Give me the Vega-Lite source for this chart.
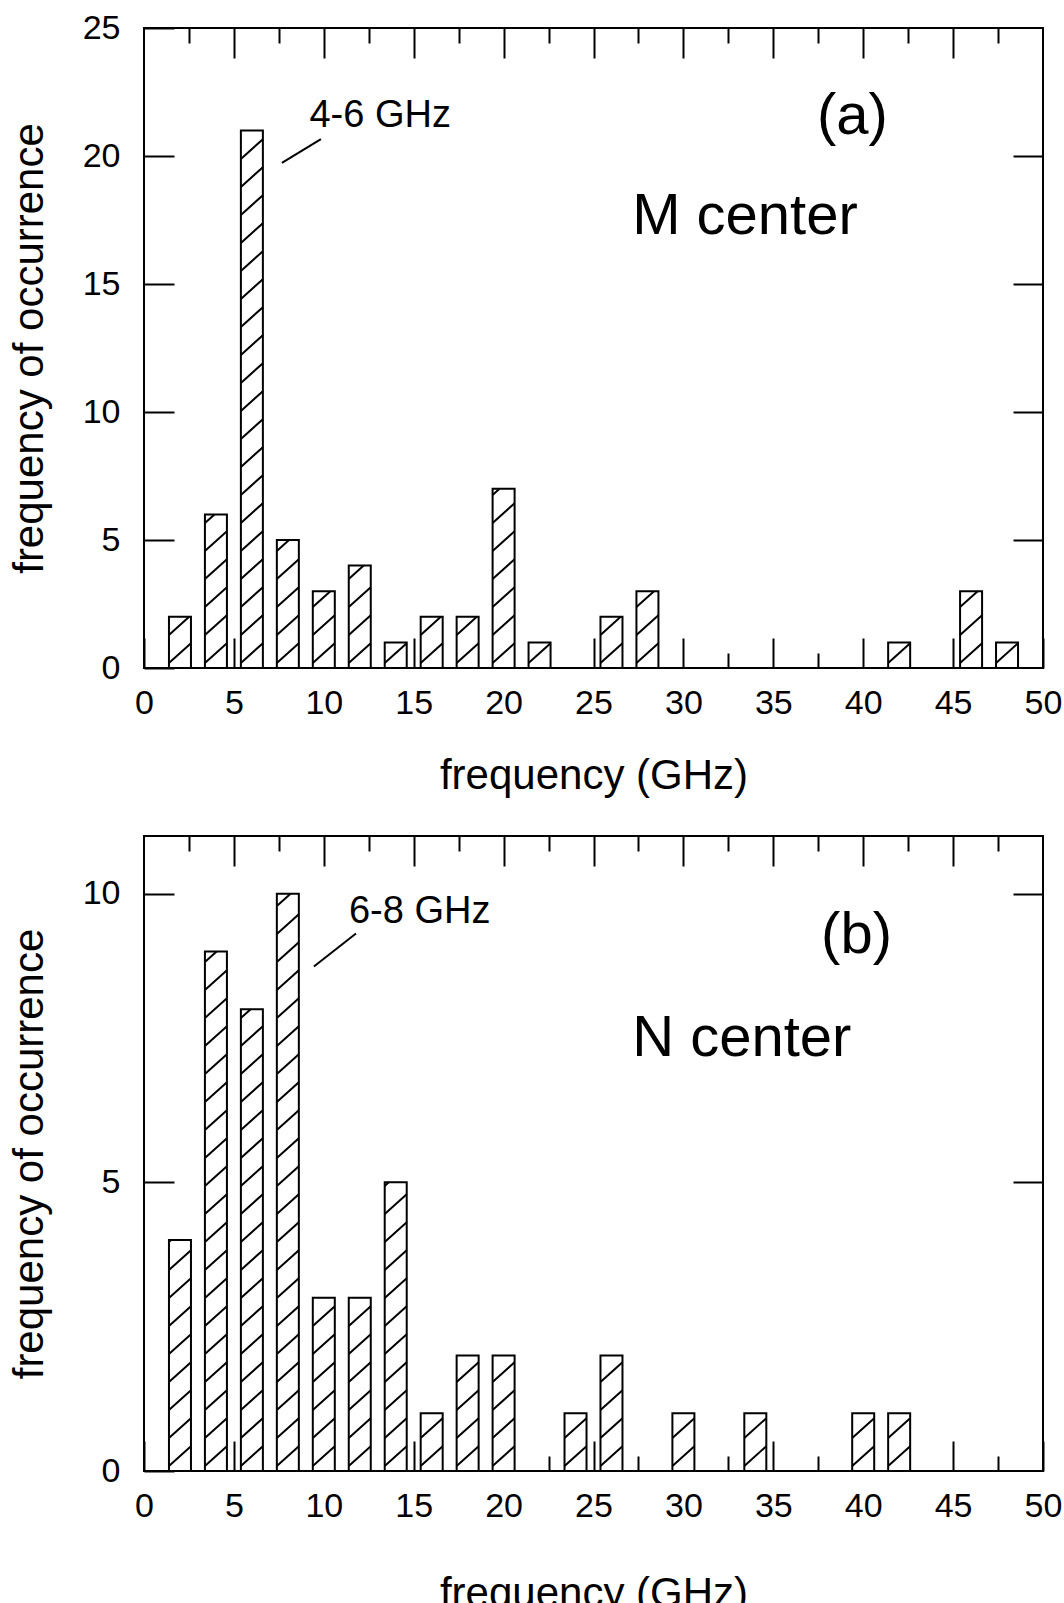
{
  "$schema": "https://vega.github.io/schema/vega-lite/v6.json",
  "padding": {"left": 7, "top": 10, "right": 0, "bottom": 0},
  "background": "white",
  "config": {
    "view": {"stroke": "black", "strokeWidth": 2},
    "font": "Liberation Sans",
    "axis": {
      "grid": false, "domain": false, "tickColor": "black", "tickWidth": 2,
      "labelFont": "Liberation Sans", "labelFontSize": 34, "labelColor": "black",
      "labelFlush": false, "labelOverlap": false,
      "titleFont": "Liberation Sans", "titleFontSize": 42, "titleFontWeight": "normal", "titleColor": "black",
      "zindex": 1
    }
  },
  "spacing": 37,
  "datasets": {
    "m_center": [
      {"frequency": 2, "count": 2}, {"frequency": 4, "count": 6}, {"frequency": 6, "count": 21},
      {"frequency": 8, "count": 5}, {"frequency": 10, "count": 3}, {"frequency": 12, "count": 4},
      {"frequency": 14, "count": 1}, {"frequency": 16, "count": 2}, {"frequency": 18, "count": 2},
      {"frequency": 20, "count": 7}, {"frequency": 22, "count": 1}, {"frequency": 26, "count": 2},
      {"frequency": 28, "count": 3}, {"frequency": 42, "count": 1}, {"frequency": 46, "count": 3},
      {"frequency": 48, "count": 1}
    ],
    "n_center": [
      {"frequency": 2, "count": 4}, {"frequency": 4, "count": 9}, {"frequency": 6, "count": 8},
      {"frequency": 8, "count": 10}, {"frequency": 10, "count": 3}, {"frequency": 12, "count": 3},
      {"frequency": 14, "count": 5}, {"frequency": 16, "count": 1}, {"frequency": 18, "count": 2},
      {"frequency": 20, "count": 2}, {"frequency": 24, "count": 1}, {"frequency": 26, "count": 2},
      {"frequency": 30, "count": 1}, {"frequency": 34, "count": 1}, {"frequency": 40, "count": 1},
      {"frequency": 42, "count": 1}
    ]
  },
  "resolve": {"scale": {"shape": "independent"}},
  "vconcat": [
    {
      "width": 899, "height": 640,
      "data": {"name": "m_center"},
      "resolve": {"axis": {"x": "independent", "y": "independent"}},
      "layer": [
        {
          "mark": {"type": "bar", "width": 22, "fill": "white", "stroke": "black", "strokeWidth": 2},
          "encoding": {
            "x": {"field": "frequency", "type": "quantitative",
              "scale": {"domain": [0, 50], "nice": false, "zero": false, "padding": 0},
              "axis": {"orient": "bottom", "values": [0, 5, 10, 15, 20, 25, 30, 35, 40, 45, 50], "tickSize": -30, "labelPadding": 48, "title": "frequency (GHz)", "titlePadding": 35}},
            "y": {"field": "count", "type": "quantitative",
              "scale": {"domain": [0, 25], "nice": false, "padding": 0},
              "axis": {"orient": "left", "values": [0, 5, 10, 15, 20, 25], "tickSize": -30, "labelPadding": 54, "title": "frequency of occurrence", "titlePadding": 31}}
          }
        },
        {
          "mark": {"type": "point", "filled": false, "size": 4, "stroke": "black", "strokeWidth": 2, "opacity": 1},
          "encoding": {
            "x": {"field": "frequency", "type": "quantitative",
              "axis": {"orient": "top", "values": [5, 10, 15, 20, 25, 30, 35, 40, 45], "tickSize": -30, "labels": false, "title": null}},
            "y": {"field": "count", "type": "quantitative",
              "axis": {"orient": "right", "values": [5, 10, 15, 20], "tickSize": -30, "labels": false, "title": null}},
            "shape": {"field": "count", "type": "nominal", "legend": null,
              "scale": {
                "domain": [1, 2, 3, 4, 5, 6, 7, 21],
                "range": [
                  "M-11,20.6L11,0.8",
                  "M-11,46.2L11,26.4M-11,18.2L9.2,0",
                  "M-11,71.8L11,52M-11,43.8L11,24M-11,15.8L6.6,0",
                  "M-11,97.4L11,77.6M-11,69.4L11,49.6M-11,41.4L11,21.6M-11,13.4L3.9,0",
                  "M-11,123L11,103.2M-11,95L11,75.2M-11,67L11,47.2M-11,39L11,19.2M-11,11L1.2,0",
                  "M-11,148.6L11,128.8M-11,120.6L11,100.8M-11,92.6L11,72.8M-11,64.6L11,44.8M-11,36.6L11,16.8M-11,8.6L-1.4,0",
                  "M-11,174.2L11,154.4M-11,146.2L11,126.4M-11,118.2L11,98.4M-11,90.2L11,70.4M-11,62.2L11,42.4M-11,34.2L11,14.4M-11,6.2L-4.1,0",
                  "M-11,532.6L11,512.8M-11,504.6L11,484.8M-11,476.6L11,456.8M-11,448.6L11,428.8M-11,420.6L11,400.8M-11,392.6L11,372.8M-11,364.6L11,344.8M-11,336.6L11,316.8M-11,308.6L11,288.8M-11,280.6L11,260.8M-11,252.6L11,232.8M-11,224.6L11,204.8M-11,196.6L11,176.8M-11,168.6L11,148.8M-11,140.6L11,120.8M-11,112.6L11,92.8M-11,84.6L11,64.8M-11,56.6L11,36.8M-11,28.6L11,8.8"
                ]
              }}
          }
        },
        {
          "mark": {"type": "point", "opacity": 0},
          "encoding": {
            "x": {"field": "frequency", "type": "quantitative",
              "axis": {"orient": "bottom", "values": [2.5, 7.5, 12.5, 17.5, 22.5, 27.5, 32.5, 37.5, 42.5, 47.5], "tickSize": -15, "labels": false, "title": null}},
            "y": {"field": "count", "type": "quantitative", "axis": null}
          }
        },
        {
          "mark": {"type": "point", "opacity": 0},
          "encoding": {
            "x": {"field": "frequency", "type": "quantitative",
              "axis": {"orient": "top", "values": [2.5, 7.5, 12.5, 17.5, 22.5, 27.5, 32.5, 37.5, 42.5, 47.5], "tickSize": -15, "labels": false, "title": null}},
            "y": {"field": "count", "type": "quantitative", "axis": null}
          }
        },
        {
          "data": {"values": [{}]},
          "mark": {"type": "rule", "stroke": "black", "strokeWidth": 2},
          "encoding": {
            "x": {"datum": 7.67, "type": "quantitative", "axis": null},
            "y": {"datum": 19.73, "type": "quantitative", "axis": null},
            "x2": {"datum": 9.84},
            "y2": {"datum": 20.66}
          }
        },
        {
          "data": {"values": [{}]},
          "mark": {"type": "text", "text": "4-6 GHz", "fontSize": 38, "font": "Liberation Sans", "align": "left", "baseline": "alphabetic", "color": "black"},
          "encoding": {
            "x": {"datum": 9.2, "type": "quantitative", "axis": null},
            "y": {"datum": 21.15, "type": "quantitative", "axis": null}
          }
        },
        {
          "data": {"values": [{}]},
          "mark": {"type": "text", "text": "(a)", "fontSize": 58, "font": "Liberation Sans", "align": "center", "baseline": "alphabetic", "color": "black"},
          "encoding": {
            "x": {"datum": 39.4, "type": "quantitative", "axis": null},
            "y": {"datum": 20.86, "type": "quantitative", "axis": null}
          }
        },
        {
          "data": {"values": [{}]},
          "mark": {"type": "text", "text": "M center", "fontSize": 58, "font": "Liberation Sans", "align": "left", "baseline": "alphabetic", "color": "black"},
          "encoding": {
            "x": {"datum": 27.15, "type": "quantitative", "axis": null},
            "y": {"datum": 16.95, "type": "quantitative", "axis": null}
          }
        }
      ]
    },
    {
      "width": 899, "height": 635,
      "data": {"name": "n_center"},
      "resolve": {"axis": {"x": "independent", "y": "independent"}},
      "layer": [
        {
          "mark": {"type": "bar", "width": 22, "fill": "white", "stroke": "black", "strokeWidth": 2},
          "encoding": {
            "x": {"field": "frequency", "type": "quantitative",
              "scale": {"domain": [0, 50], "nice": false, "zero": false, "padding": 0},
              "axis": {"orient": "bottom", "values": [0, 5, 10, 15, 20, 25, 30, 35, 40, 45, 50], "tickSize": -30, "labelPadding": 48, "title": "frequency (GHz)", "titlePadding": 50}},
            "y": {"field": "count", "type": "quantitative",
              "scale": {"domain": [0, 11], "nice": false, "padding": 0},
              "axis": {"orient": "left", "values": [0, 5, 10], "tickSize": -30, "labelPadding": 54, "title": "frequency of occurrence", "titlePadding": 31}}
          }
        },
        {
          "mark": {"type": "point", "filled": false, "size": 4, "stroke": "black", "strokeWidth": 2, "opacity": 1},
          "encoding": {
            "x": {"field": "frequency", "type": "quantitative",
              "axis": {"orient": "top", "values": [5, 10, 15, 20, 25, 30, 35, 40, 45], "tickSize": -30, "labels": false, "title": null}},
            "y": {"field": "count", "type": "quantitative",
              "axis": {"orient": "right", "values": [5, 10], "tickSize": -30, "labels": false, "title": null}},
            "shape": {"field": "count", "type": "nominal", "legend": null,
              "scale": {
                "domain": [1, 2, 3, 4, 5, 8, 9, 10],
                "range": [
                  "M-11,52.7L11,32.9M-11,24.7L11,4.9",
                  "M-11,110.5L11,90.7M-11,82.5L11,62.7M-11,54.5L11,34.7M-11,26.5L11,6.7",
                  "M-11,168.2L11,148.4M-11,140.2L11,120.4M-11,112.2L11,92.4M-11,84.2L11,64.4M-11,56.2L11,36.4M-11,28.2L11,8.4",
                  "M-11,225.9L11,206.1M-11,197.9L11,178.1M-11,169.9L11,150.1M-11,141.9L11,122.1M-11,113.9L11,94.1M-11,85.9L11,66.1M-11,57.9L11,38.1M-11,29.9L11,10.1M-11,1.9L-8.9,0",
                  "M-11,283.6L11,263.8M-11,255.6L11,235.8M-11,227.6L11,207.8M-11,199.6L11,179.8M-11,171.6L11,151.8M-11,143.6L11,123.8M-11,115.6L11,95.8M-11,87.6L11,67.8M-11,59.6L11,39.8M-11,31.6L11,11.8M-11,3.6L-7,0",
                  "M-11,456.8L11,437M-11,428.8L11,409M-11,400.8L11,381M-11,372.8L11,353M-11,344.8L11,325M-11,316.8L11,297M-11,288.8L11,269M-11,260.8L11,241M-11,232.8L11,213M-11,204.8L11,185M-11,176.8L11,157M-11,148.8L11,129M-11,120.8L11,101M-11,92.8L11,73M-11,64.8L11,45M-11,36.8L11,17M-11,8.8L-1.2,0",
                  "M-11,514.5L11,494.7M-11,486.5L11,466.7M-11,458.5L11,438.7M-11,430.5L11,410.7M-11,402.5L11,382.7M-11,374.5L11,354.7M-11,346.5L11,326.7M-11,318.5L11,298.7M-11,290.5L11,270.7M-11,262.5L11,242.7M-11,234.5L11,214.7M-11,206.5L11,186.7M-11,178.5L11,158.7M-11,150.5L11,130.7M-11,122.5L11,102.7M-11,94.5L11,74.7M-11,66.5L11,46.7M-11,38.5L11,18.7M-11,10.5L0.7,0",
                  "M-11,572.3L11,552.5M-11,544.3L11,524.5M-11,516.3L11,496.5M-11,488.3L11,468.5M-11,460.3L11,440.5M-11,432.3L11,412.5M-11,404.3L11,384.5M-11,376.3L11,356.5M-11,348.3L11,328.5M-11,320.3L11,300.5M-11,292.3L11,272.5M-11,264.3L11,244.5M-11,236.3L11,216.5M-11,208.3L11,188.5M-11,180.3L11,160.5M-11,152.3L11,132.5M-11,124.3L11,104.5M-11,96.3L11,76.5M-11,68.3L11,48.5M-11,40.3L11,20.5M-11,12.3L2.7,0"
                ]
              }}
          }
        },
        {
          "mark": {"type": "point", "opacity": 0},
          "encoding": {
            "x": {"field": "frequency", "type": "quantitative",
              "axis": {"orient": "bottom", "values": [2.5, 7.5, 12.5, 17.5, 22.5, 27.5, 32.5, 37.5, 42.5, 47.5], "tickSize": -15, "labels": false, "title": null}},
            "y": {"field": "count", "type": "quantitative", "axis": null}
          }
        },
        {
          "mark": {"type": "point", "opacity": 0},
          "encoding": {
            "x": {"field": "frequency", "type": "quantitative",
              "axis": {"orient": "top", "values": [2.5, 7.5, 12.5, 17.5, 22.5, 27.5, 32.5, 37.5, 42.5, 47.5], "tickSize": -15, "labels": false, "title": null}},
            "y": {"field": "count", "type": "quantitative", "axis": null}
          }
        },
        {
          "data": {"values": [{}]},
          "mark": {"type": "rule", "stroke": "black", "strokeWidth": 2},
          "encoding": {
            "x": {"datum": 9.45, "type": "quantitative", "axis": null},
            "y": {"datum": 8.74, "type": "quantitative", "axis": null},
            "x2": {"datum": 11.79},
            "y2": {"datum": 9.31}
          }
        },
        {
          "data": {"values": [{}]},
          "mark": {"type": "text", "text": "6-8 GHz", "fontSize": 38, "font": "Liberation Sans", "align": "left", "baseline": "alphabetic", "color": "black"},
          "encoding": {
            "x": {"datum": 11.4, "type": "quantitative", "axis": null},
            "y": {"datum": 9.5, "type": "quantitative", "axis": null}
          }
        },
        {
          "data": {"values": [{}]},
          "mark": {"type": "text", "text": "(b)", "fontSize": 58, "font": "Liberation Sans", "align": "center", "baseline": "alphabetic", "color": "black"},
          "encoding": {
            "x": {"datum": 39.63, "type": "quantitative", "axis": null},
            "y": {"datum": 8.97, "type": "quantitative", "axis": null}
          }
        },
        {
          "data": {"values": [{}]},
          "mark": {"type": "text", "text": "N center", "fontSize": 58, "font": "Liberation Sans", "align": "left", "baseline": "alphabetic", "color": "black"},
          "encoding": {
            "x": {"datum": 27.15, "type": "quantitative", "axis": null},
            "y": {"datum": 7.19, "type": "quantitative", "axis": null}
          }
        }
      ]
    }
  ]
}
